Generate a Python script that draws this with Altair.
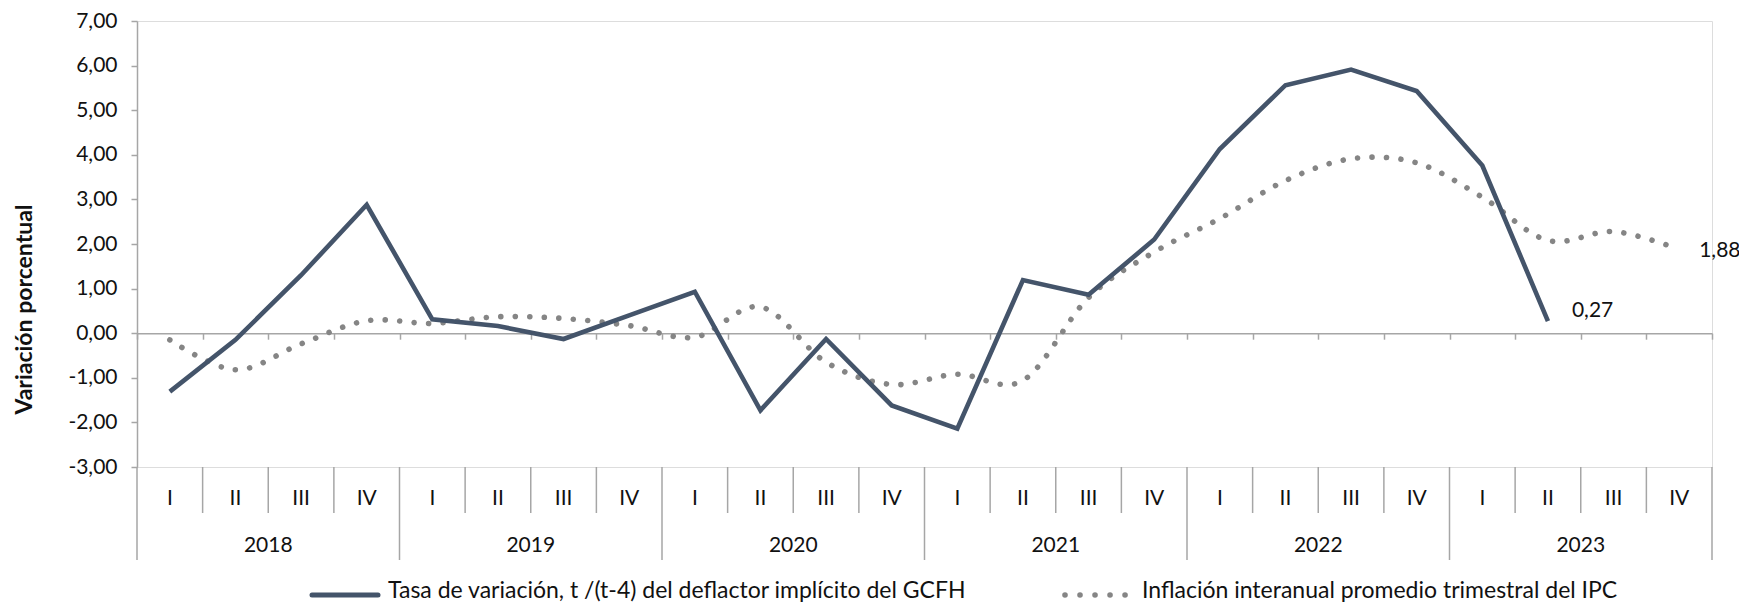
import altair as alt
import pandas as pd

# ---------------- data ----------------
quarters = ["I", "II", "III", "IV"] * 6
years = ["2018", "2019", "2020", "2021", "2022", "2023"]
deflactor = [-1.31, -0.15, 1.30, 2.88, 0.31, 0.16, -0.13, 0.40,
             0.93, -1.73, -0.13, -1.62, -2.14, 1.19, 0.86, 2.10,
             4.13, 5.56, 5.91, 5.43, 3.76, 0.27, None, None]
ipc = [-0.15, -0.82, -0.24, 0.28, 0.22, 0.37, 0.33, 0.17,
       -0.09, 0.59, -0.65, -1.15, -0.92, -1.06, 0.80, 1.82,
       2.57, 3.42, 3.91, 3.82, 3.05, 2.08, 2.28, 1.88]
series_names = ["Tasa de variación, t /(t-4) del deflactor implícito del GCFH",
                "Inflación interanual promedio trimestral del IPC"]
y_ticks = [-3, -2, -1, 0, 1, 2, 3, 4, 5, 6, 7]

# ---------------- style ----------------
W, H = 1575, 446
TOP = 13
GRAY = "#a6a6a6"
SOLID = "#44546a"
DOTC = "#858585"
FONT = "Lato"
FS = 21
TXT = "#111111"

n = len(quarters)
df_def = pd.DataFrame({"pos": [i + 0.5 for i in range(n)], "valor": deflactor}).dropna()
df_ipc = pd.DataFrame({"pos": [i + 0.5 for i in range(n)], "valor": ipc})
df_q = pd.DataFrame({"pos": [i + 0.5 for i in range(n)], "lab": quarters})
df_y = pd.DataFrame({"pos": [4 * j + 2 for j in range(len(years))], "lab": years})
df_qsep = pd.DataFrame({"pos": [k for k in range(n + 1) if k % 4 != 0]})
df_ysep = pd.DataFrame({"pos": [k for k in range(n + 1) if k % 4 == 0]})

xscale = alt.Scale(domain=[0, n], nice=False, zero=False)
yscale = alt.Scale(domain=[-3, 7], nice=False, zero=False)
zero_px = H * 7 / 10

num_expr = "replace(replace(format({v}, '.2f'), '.', ','), '\u2212', '-')"

xaxis = alt.Axis(values=list(range(n + 1)), labels=False, title=None, grid=False,
                 tickSize=6, tickColor=GRAY, tickWidth=1.5, domainColor=GRAY,
                 domainWidth=1.5, offset=-(H - zero_px))
yaxis = alt.Axis(values=y_ticks, grid=False, tickSize=6, tickColor=GRAY, tickWidth=1.5,
                 domainColor=GRAY, domainWidth=1.5, labelPadding=14,
                 labelExpr=num_expr.format(v="datum.value"),
                 labelFont=FONT, labelFontSize=FS, labelColor=TXT,
                 title="Variación porcentual", titleFont=FONT, titleFontSize=23,
                 titleFontWeight="bold", titleColor=TXT, titleAngle=270,
                 titleX=-113, titleY=288, titleAlign="center", titleBaseline="middle")

line_def = alt.Chart(df_def).mark_line(color=SOLID, strokeWidth=4.6, strokeJoin="miter").encode(
    x=alt.X("pos:Q", scale=xscale, axis=xaxis),
    y=alt.Y("valor:Q", scale=yscale, axis=yaxis),
)
line_ipc = alt.Chart(df_ipc).mark_line(color=DOTC, strokeWidth=5.6, strokeCap="round",
                                       strokeDash=[0.01, 14.5], interpolate="cardinal",
                                       tension=0).encode(
    x=alt.X("pos:Q", scale=xscale),
    y=alt.Y("valor:Q", scale=yscale),
)

lbl_expr = num_expr.format(v="datum.valor")
lab_def = alt.Chart(df_def.tail(1)).transform_calculate(t=lbl_expr).mark_text(
    align="left", baseline="middle", dx=24, dy=-10, font=FONT, fontSize=FS, color=TXT
).encode(x=alt.X("pos:Q", scale=xscale), y=alt.Y("valor:Q", scale=yscale), text="t:N")
lab_ipc = alt.Chart(df_ipc.tail(1)).transform_calculate(t=lbl_expr).mark_text(
    align="left", baseline="middle", dx=20, dy=2, font=FONT, fontSize=FS, color=TXT
).encode(x=alt.X("pos:Q", scale=xscale), y=alt.Y("valor:Q", scale=yscale), text="t:N")

qsep = alt.Chart(df_qsep).mark_rule(color=GRAY, strokeWidth=1.5).encode(
    x=alt.X("pos:Q", scale=xscale), y=alt.value(H), y2=alt.value(H + 46))
ysep = alt.Chart(df_ysep).mark_rule(color=GRAY, strokeWidth=1.5).encode(
    x=alt.X("pos:Q", scale=xscale), y=alt.value(H), y2=alt.value(H + 93))
qtext = alt.Chart(df_q).mark_text(baseline="middle", font=FONT, fontSize=FS, color=TXT).encode(
    x=alt.X("pos:Q", scale=xscale), y=alt.value(H + 32), text="lab:N")
ytext = alt.Chart(df_y).mark_text(baseline="middle", font=FONT, fontSize=FS, color=TXT).encode(
    x=alt.X("pos:Q", scale=xscale), y=alt.value(H + 79), text="lab:N")

LEG_Y = 574
LEG_BASE = 577
LEG_FS = 23
leg_line1 = alt.Chart(pd.DataFrame({"s": [series_names[0]]})).mark_rule(
    color=SOLID, strokeWidth=5, strokeCap="round").encode(
    x=alt.value(175), x2=alt.value(241), y=alt.value(LEG_Y))
leg_text1 = alt.Chart(pd.DataFrame({"s": [series_names[0]]})).mark_text(
    align="left", baseline="alphabetic", font=FONT, fontSize=LEG_FS, color=TXT).encode(
    x=alt.value(251), y=alt.value(LEG_BASE), text="s:N")
leg_line2 = alt.Chart(pd.DataFrame({"s": [series_names[1]]})).mark_rule(
    color=DOTC, strokeWidth=5.6, strokeCap="round", strokeDash=[0.01, 15]).encode(
    x=alt.value(928), x2=alt.value(990), y=alt.value(LEG_Y))
leg_text2 = alt.Chart(pd.DataFrame({"s": [series_names[1]]})).mark_text(
    align="left", baseline="alphabetic", font=FONT, fontSize=LEG_FS, color=TXT).encode(
    x=alt.value(1005), y=alt.value(LEG_BASE), text="s:N")

chart = alt.layer(
    line_ipc, line_def, lab_def, lab_ipc, qsep, ysep, qtext, ytext,
    leg_line1, leg_text1, leg_line2, leg_text2,
).properties(
    width=W, height=H,
    autosize=alt.AutoSizeParams(type="none"),
    padding={"left": 129, "top": TOP, "right": 27, "bottom": 596 - TOP - H},
).configure_view(stroke=None).configure(background="white")

chart.save("out.html", embed_options={"renderer": "svg", "actions": False})
